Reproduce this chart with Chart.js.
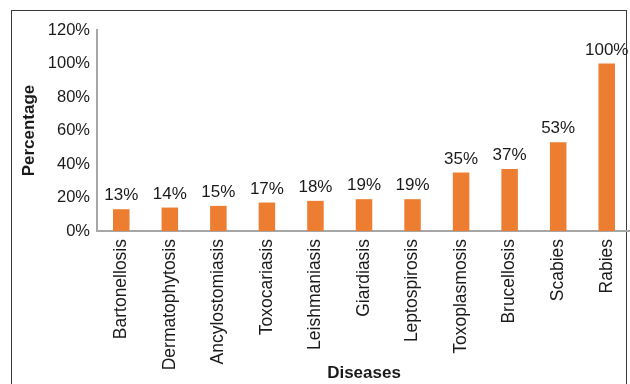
<!DOCTYPE html>
<html><head><meta charset="utf-8">
<script src="https://cdn.jsdelivr.net/npm/chart.js@4"></script>
<style>
html,body{margin:0;padding:0;width:630px;height:384px;overflow:hidden;background:#fff;}
#frame{position:absolute;left:11px;top:10px;width:616px;height:420px;border:1px solid #3a3a3a;box-sizing:border-box;}
#wrap{position:absolute;left:0;top:0;width:640px;height:384px;}
</style></head>
<body>
<div id="frame"></div>
<div id="wrap"><canvas id="c" width="640" height="384"></canvas></div>
<script>
const categories = ["Bartonellosis","Dermatophytosis","Ancylostomiasis","Toxocariasis","Leishmaniasis","Giardiasis","Leptospirosis","Toxoplasmosis","Brucellosis","Scabies","Rabies"];
const percentages = [13,14,15,17,18,19,19,35,37,53,100];
const yTicks = [0,20,40,60,80,100,120];

const FONT = "'Liberation Sans', Arial, sans-serif";

const valueLabels = {
  id: 'valueLabels',
  afterDatasetsDraw(chart) {
    const ctx = chart.ctx;
    const meta = chart.getDatasetMeta(0);
    ctx.save();
    ctx.font = "17px " + FONT;
    ctx.fillStyle = "#1a1a1a";
    ctx.textAlign = "center";
    ctx.textBaseline = "bottom";
    meta.data.forEach((bar, i) => {
      ctx.fillText(percentages[i] + "%", bar.x, bar.y - 5);
    });
    ctx.restore();
  }
};

new Chart(document.getElementById('c'), {
  type: 'bar',
  data: {
    labels: categories,
    datasets: [{
      data: percentages,
      backgroundColor: '#ED7D31',
      barPercentage: 0.34,
      categoryPercentage: 1.0
    }]
  },
  options: {
    responsive: false,
    animation: false,
    devicePixelRatio: 1,
    layout: { padding: { left: 0, right: 9, top: 30, bottom: 0 } },
    plugins: { legend: { display: false }, tooltip: { enabled: false } },
    scales: {
      x: {
        grid: { display: false },
        border: { display: true, color: '#a6a6a6', width: 2 },
        ticks: {
          minRotation: 90, maxRotation: 90, autoSkip: false,
          padding: 0, color: '#1a1a1a',
          font: { family: FONT, size: 17.5 }
        },
        title: {
          display: true, text: 'Diseases', color: '#1a1a1a',
          font: { family: FONT, size: 17, weight: 'bold' },
          padding: { top: 0, bottom: 0 }
        },
        afterFit(scale) { scale.height = 384 - 231; }
      },
      y: {
        min: 0, max: 120,
        afterBuildTicks(scale) { scale.ticks = yTicks.map(v => ({ value: v })); },
        grid: { display: false, drawTicks: false },
        border: { display: true, color: '#a6a6a6', width: 2 },
        ticks: {
          padding: 7, color: '#1a1a1a',
          font: { family: FONT, size: 16.5 },
          callback: v => v + '%'
        },
        title: {
          display: true, text: 'Percentage', color: '#1a1a1a',
          font: { family: FONT, size: 17, weight: 'bold' },
          padding: { top: 19, bottom: 0 }
        },
        afterFit(scale) { scale.width = 97; }
      }
    }
  },
  plugins: [valueLabels]
});
</script>
</body></html>
